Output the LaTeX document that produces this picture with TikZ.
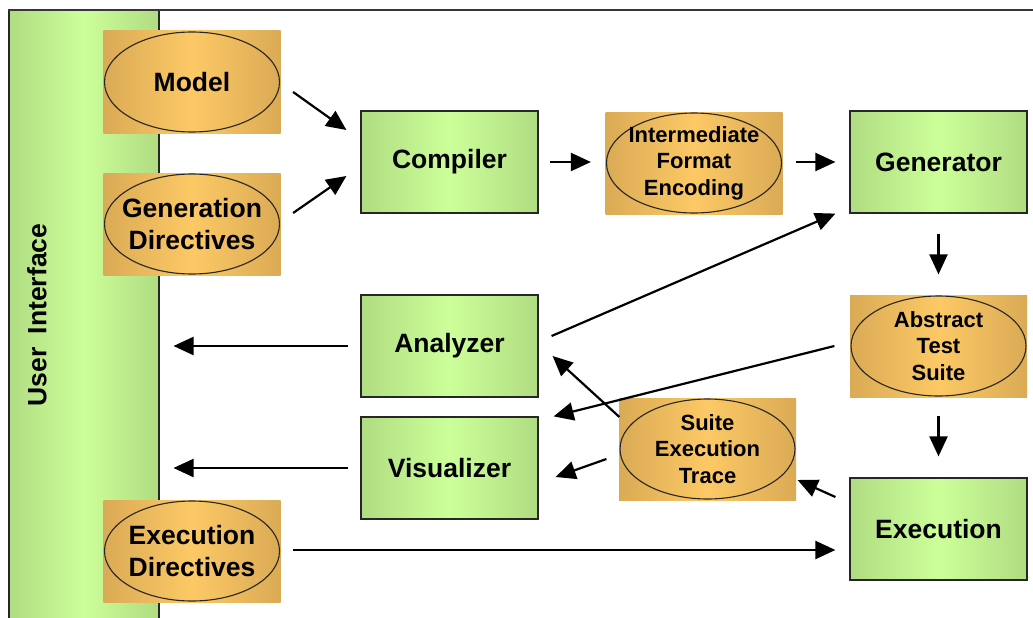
\documentclass[tikz,border=0pt]{standalone}
\usepackage{fontspec}
\setmainfont{Liberation Sans}
\usetikzlibrary{arrows.meta,calc}
\definecolor{leafedge}{RGB}{176,220,130}
\definecolor{leafmid}{RGB}{204,255,153}
\definecolor{goldedge}{RGB}{218,170,85}
\definecolor{goldmid}{RGB}{253,201,102}
\definecolor{framegray}{RGB}{55,55,55}
\tikzset{
  tool/.style      = {rectangle, draw=black!85, line width=1.2pt,
                      left color=leafedge, right color=leafedge, middle color=leafmid,
                      minimum width=177pt, minimum height=102pt, inner sep=2pt,
                      align=center, font=\fontsize{26.5}{31.5}\selectfont\bfseries},
  % artefacts: gold box with an oval drawn inside it
  artefact/.style  = {tool, draw=none,
                      left color=goldedge, right color=goldedge, middle color=goldmid,
                      path picture={\draw[line width=1.1pt] (path picture bounding box.center)
                                    ellipse [x radius=87.5pt, y radius=50pt];}},
  artefacts/.style = {artefact, font=\fontsize{22}{26.5}\selectfont\bfseries},
  flow/.style      = {draw=black, line width=2.2pt, -{Triangle[length=20pt,width=18pt]}},
}

\begin{document}
\begin{tikzpicture}[x=1pt, y=-1pt]
  \useasboundingbox (0,0) rectangle (1033,618);
  \clip (0,0) rectangle (1033,618);

  % user interface column
  \node[tool, anchor=north west, minimum width=150pt, minimum height=640pt,
        line width=1.5pt] (ui) at (8,10) {};
  \node[rotate=90, font=\fontsize{26.5}{31.5}\selectfont\bfseries] (uitext) at (37,315)
       {User\hspace{0.5em}Interface};
  \draw[framegray, line width=2pt] (ui.north west) -- ($(ui.north west)+(1030,0)$);

  \node[artefact]  (model)      at (192,82)      {Model};
  \node[artefact]  (gendir)     at (192,224)     {Generation\\Directives};
  \node[artefact]  (execdir)    at (192,551)     {Execution\\Directives};

  \node[tool]      (compiler)   at (449.5,162)   {Compiler};
  \node[artefacts] (ife)        at (694,163)     {Intermediate\\Format\\Encoding};
  \node[tool]      (generator)  at (938.5,162)   {Generator};

  \node[tool]      (analyzer)   at (449.5,346)   {Analyzer};
  \node[artefacts] (suite)      at (938.5,346)   {Abstract\\Test\\Suite};
  \node[tool]      (visualizer) at (449.5,468)   {Visualizer};
  \node[artefacts] (trace)      at (707.5,449)   {Suite\\Execution\\Trace};
  \node[tool]      (execution)  at (938.5,529)   {Execution};

  \draw[flow] ($(model.east)+(12,10)$)      -- ($(compiler.west)+(-14,-32)$);
  \draw[flow] ($(gendir.east)+(12,-11)$)    -- ($(compiler.west)+(-14,14)$);
  \draw[flow] ($(compiler.east)+(11,0)$)    -- ($(ife.west)+(-14,-1)$);
  \draw[flow] ($(ife.east)+(13,-1)$)        -- ($(generator.west)+(-14,0)$);
  \draw[flow] ($(generator.south)+(0,20)$)  -- ($(suite.north)+(0,-20)$);
  \draw[flow] ($(suite.south)+(0,18)$)      -- ($(execution.north)+(0,-21)$);

  \draw[flow] ($(analyzer.east)+(13,-10)$)  -- ($(generator.south west)+(-14,0)$);
  \draw[flow] ($(suite.west)+(-15,0)$)      -- ($(visualizer.north east)+(15,0)$);
  \draw[flow] ($(trace.west)+(1,-32)$)      -- ($(analyzer.east)+(14,10)$);
  \draw[flow] ($(trace.west)+(-12,10)$)     -- ($(visualizer.east)+(17,9)$);
  \draw[flow] ($(execution.west)+(-14,-32)$) -- ($(trace.east)+(1,31)$);

  \draw[flow] ($(analyzer.west)+(-12,0)$)   -- ($(analyzer.west -| ui.east)+(14,0)$);
  \draw[flow] ($(visualizer.west)+(-12,0)$) -- ($(visualizer.west -| ui.east)+(14,0)$);
  \draw[flow] ($(execdir.east)+(12,-1)$)    -- ($(execution.west)+(-14,21)$);
\end{tikzpicture}
\end{document}
